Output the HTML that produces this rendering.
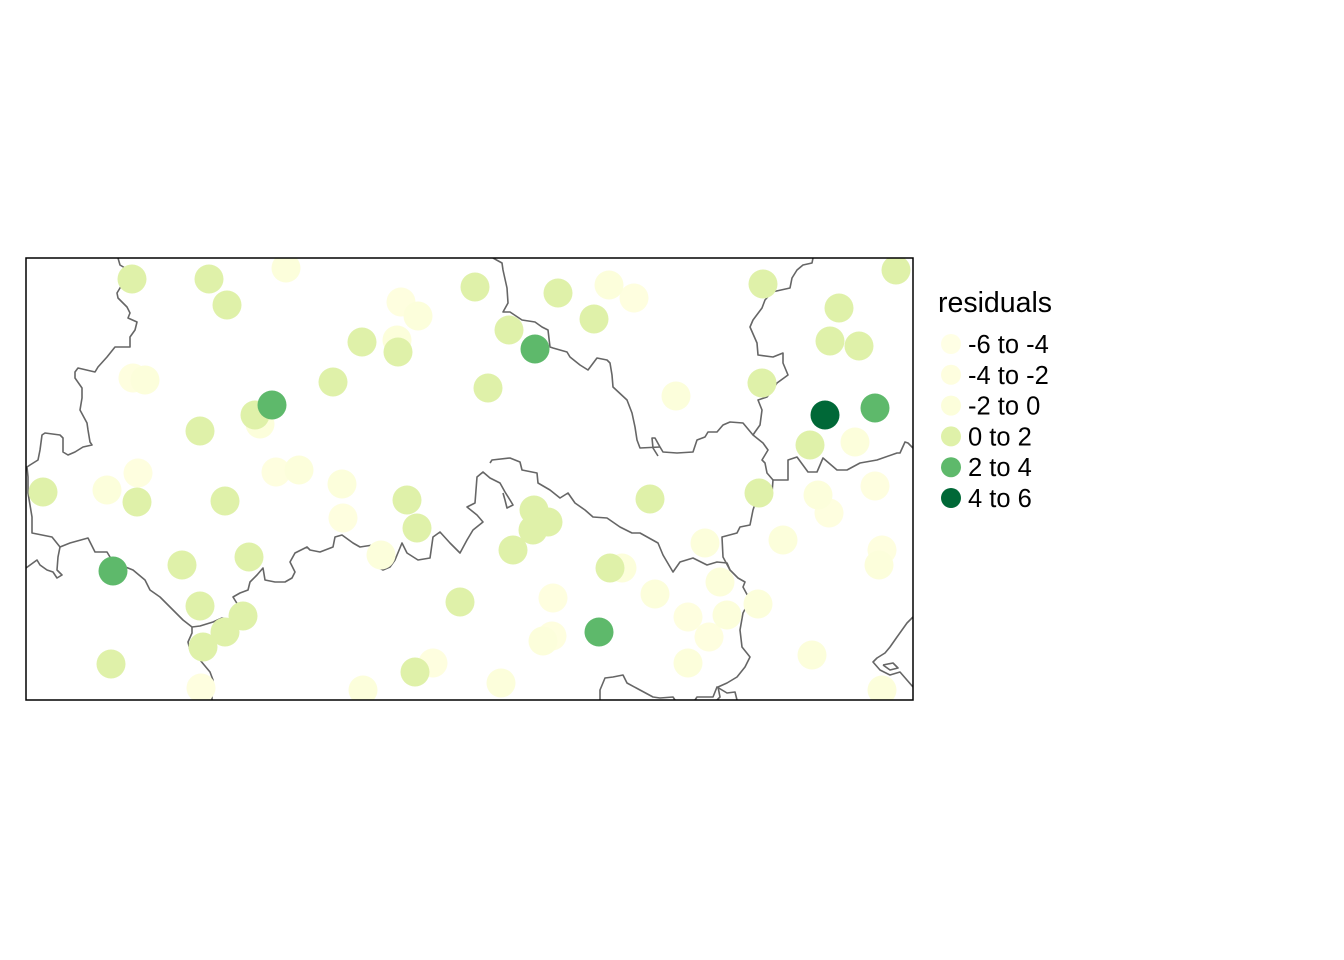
<!DOCTYPE html>
<html><head><meta charset="utf-8"><style>
body{margin:0;background:#fff;}
svg{display:block;font-family:"Liberation Sans",Arial,sans-serif;}
</style></head><body>
<svg id="chart" width="1344" height="960">
<defs><clipPath id="clip"><rect x="26" y="258" width="887" height="442"/></clipPath></defs>
<rect width="1344" height="960" fill="#fff"/>
<g id="borders" clip-path="url(#clip)" fill="none" stroke="#666" stroke-width="1.6" stroke-linejoin="round"></g>
<g id="points" clip-path="url(#clip)"></g>
<rect x="26" y="258" width="887" height="442" fill="none" stroke="#000" stroke-width="1.5"/>
<g id="legend">
<text x="938" y="312" font-size="28.5" fill="#000">residuals</text>
</g>
</svg>
<script>
const classLabels = ["-6 to -4","-4 to -2","-2 to 0","0 to 2","2 to 4","4 to 6"];
const classColors = ["#ffffe5","#fefedf","#fcfedb","#dff1a9","#5eb96b","#006837"];
// point x (map px), y (map px), class index
const ptX = [132,209,227,475,558,594,509,362,398,333,488,255,200,43,137,225,407,417,534,548,533,513,650,763,839,830,859,762,810,759,896,182,249,200,243,225,203,111,415,460,610,
 286,401,418,397,133,145,260,138,107,276,299,342,343,381,609,634,676,855,875,818,829,783,705,882,879,622,553,655,720,688,727,709,758,543,552,688,812,433,501,363,201,882,
 272,535,113,599,875,825];
const ptY = [279,279,305,287,293,319,330,342,352,382,388,415,431,492,502,501,500,528,510,522,530,550,499,284,308,341,346,383,445,493,270,565,557,606,616,632,647,664,672,602,568,
 268,302,316,340,378,380,424,473,490,472,470,484,518,555,285,298,396,442,486,495,513,540,543,550,565,568,598,594,582,617,615,637,604,641,636,663,655,663,683,690,688,690,
 405,349,571,632,408,415];
const ptClass = [3,3,3,3,3,3,3,3,3,3,3,3,3,3,3,3,3,3,3,3,3,3,3,3,3,3,3,3,3,3,3,3,3,3,3,3,3,3,3,3,3,
 2,1,2,2,1,2,2,1,2,1,2,2,1,2,2,1,2,2,1,2,1,2,2,1,2,2,1,2,2,1,2,1,2,2,1,2,2,1,2,2,1,2,
 4,4,4,4,4,5];
const borderLines = [
 [[118,258],[120,265],[125,268],[123,283],[117,293],[118,298],[127,307],[130,313],[128,318],[137,322],[135,330],[130,337],[130,347],[115,347],[107,357],[98,367],[95,372],[78,368],[75,372],[75,378],[82,388],[82,398],[80,410],[87,423],[88,430],[90,442],[92,445],[83,447],[75,452],[68,455],[63,452],[63,438],[60,435],[45,433],[42,435],[40,450],[38,460],[30,465],[27,467],[28,477],[28,493],[32,517],[32,533],[52,537],[60,547],[70,543],[88,538],[95,552],[107,552],[113,562],[133,570],[145,580],[150,590],[160,597],[173,610],[183,620],[192,627],[200,626],[213,622],[222,618],[230,620],[238,612],[238,605],[233,597],[240,593],[248,590],[250,582],[257,575],[263,568],[265,580],[275,582],[285,582],[292,578],[295,572],[290,562],[295,553],[307,547],[310,550],[320,552],[333,547],[335,537],[342,535],[353,543],[360,547],[373,545],[368,557],[373,565],[383,570],[390,567],[395,560],[402,543],[407,553],[418,560],[430,558],[433,537],[440,532],[450,543],[460,553],[467,540],[473,530],[483,522],[477,515],[467,507],[475,503],[477,477],[483,472],[490,478],[500,483],[505,492],[510,500],[513,505],[507,508],[505,500],[503,493]],
 [[60,547],[58,557],[57,570],[62,575],[57,578],[53,572],[47,570],[40,565],[37,560],[26,568]],
 [[192,627],[192,633],[188,642],[190,650],[200,660],[210,672],[213,680],[212,695],[212,700]],
 [[490,463],[492,460],[510,458],[520,462],[522,470],[537,473],[538,483],[550,490],[560,498],[568,493],[575,503],[585,510],[593,517],[607,518],[620,527],[632,533],[640,533],[658,543],[663,555],[673,572],[680,562],[693,558],[707,565],[717,562],[727,563],[730,570],[738,578],[745,582],[743,587],[750,600],[743,613],[740,630],[742,647],[750,657],[745,667],[737,677],[727,683],[718,687],[720,697],[717,700]],
 [[730,570],[723,557],[722,537],[737,533],[740,527],[750,525],[753,510],[757,498],[772,493],[773,480],[788,480],[788,460],[797,457],[808,472],[817,472],[823,458],[837,470],[847,470],[860,463],[877,460],[897,453],[900,453],[905,442],[908,443],[913,448]],
 [[773,480],[767,473],[765,463],[762,460],[768,450],[763,443],[753,435],[755,432],[760,425],[762,410],[758,400],[767,397],[777,383],[788,375],[783,363],[783,353],[773,357],[758,355],[757,343],[750,327],[753,320],[762,308],[765,300],[772,292],[790,288],[792,278],[797,270],[803,265],[812,263],[813,258]],
 [[753,435],[743,423],[730,422],[723,425],[717,432],[708,432],[705,437],[697,440],[693,452],[677,453],[663,452],[660,447],[655,438],[652,438],[653,448],[658,456]],
 [[660,447],[640,448],[637,440],[635,427],[632,413],[627,400],[613,387],[612,375],[610,363],[607,360],[597,358],[588,370],[580,365],[570,357],[567,352],[553,348],[550,347],[548,330],[542,327],[535,322],[522,320],[510,312],[503,312],[508,303],[507,288],[503,270],[502,263],[493,258]],
 [[600,700],[600,690],[605,678],[613,677],[623,675],[627,683],[640,690],[653,697],[660,698],[673,697],[675,700]],
 [[695,700],[697,697],[713,697],[717,687],[727,693],[735,692],[737,700]],
 [[913,617],[907,623],[897,637],[890,647],[885,653],[877,658],[873,662],[880,670],[890,675],[900,672],[913,687]],
 [[883,665],[893,663],[898,668],[890,670],[883,665]]
];
const NS="http://www.w3.org/2000/svg";
const bg=document.getElementById('borders');
borderLines.forEach(function(line){
  const p=document.createElementNS(NS,'polyline');
  p.setAttribute('points',line.map(function(q){return q.join(',');}).join(' '));
  
  
  bg.appendChild(p);
});
const pg=document.getElementById('points');
const order=ptX.map(function(_,i){return i;}).sort(function(a,b){return ptClass[a]-ptClass[b];});
order.forEach(function(i){
  const c=document.createElementNS(NS,'circle');
  c.setAttribute('cx',ptX[i]);c.setAttribute('cy',ptY[i]);c.setAttribute('r',14.5);
  c.setAttribute('fill',classColors[ptClass[i]]);
  
  
  pg.appendChild(c);
});
const lg=document.getElementById('legend');
classLabels.forEach(function(lab,i){
  const y=344+i*30.8;
  const c=document.createElementNS(NS,'circle');
  c.setAttribute('cx',951);c.setAttribute('cy',y);c.setAttribute('r',10);
  c.setAttribute('fill',classColors[i]);
  
  
  lg.appendChild(c);
  const t=document.createElementNS(NS,'text');
  t.setAttribute('x',968);t.setAttribute('y',y+9);t.setAttribute('font-size','25.5');
  t.textContent=lab;
  
  
  lg.appendChild(t);
});
</script>
</body></html>
